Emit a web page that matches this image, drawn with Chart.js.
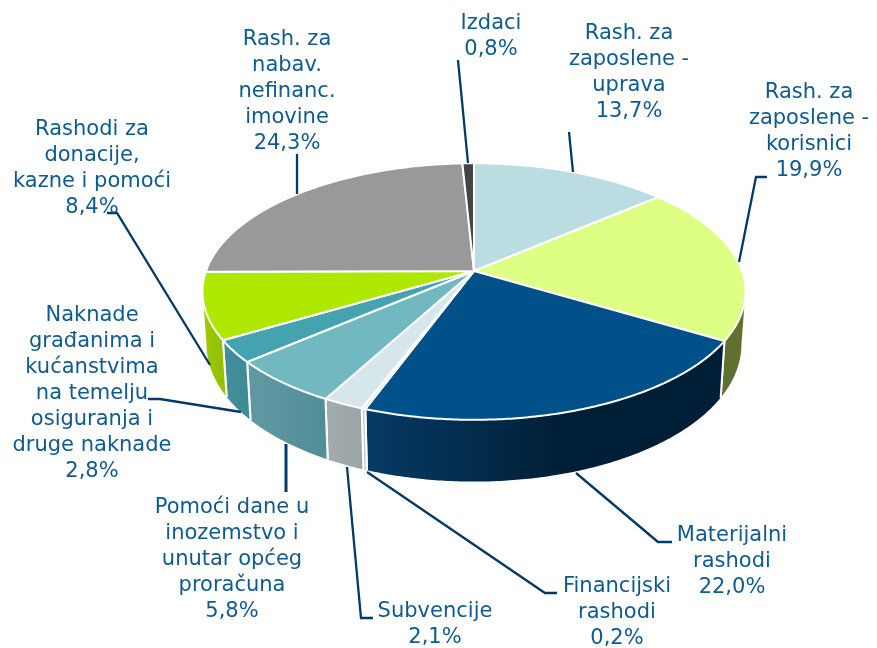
<!DOCTYPE html>
<html lang="hr">
<head>
<meta charset="utf-8">
<title>Rashodi</title>
<style>
    html, body { margin: 0; padding: 0; background: #ffffff; }
    canvas { display: block; }
</style>
<script src="https://cdn.jsdelivr.net/npm/chart.js@4/dist/chart.umd.min.js"></script>
</head>
<body>
<canvas id="pieChart" width="877" height="648"></canvas>
<script>
// Data
const categoryLines = [
    ['Rash. za', 'zaposlene -', 'uprava'],
    ['Rash. za', 'zaposlene -', 'korisnici'],
    ['Materijalni', 'rashodi'],
    ['Financijski', 'rashodi'],
    ['Subvencije'],
    ['Pomoći dane u', 'inozemstvo i', 'unutar općeg', 'proračuna'],
    ['Naknade', 'građanima i', 'kućanstvima', 'na temelju', 'osiguranja i', 'druge naknade'],
    ['Rashodi za', 'donacije,', 'kazne i pomoći'],
    ['Rash. za', 'nabav.', 'nefinanc.', 'imovine'],
    ['Izdaci']
];
const shareValues = [13.7, 19.9, 22.0, 0.2, 2.1, 5.8, 2.8, 8.4, 24.3, 0.8];

// Colours
const topColors = ['#b9dde0', '#deff84', '#005089', '#e4eaec', '#d7e6ea', '#72b8c0', '#44a3af', '#aee800', '#999999', '#444444'];
const sideStart = ['#5f7030', '#5f7030', '#063a66', '#c9cdce', '#a3adb0', '#6199a3', '#458f9d', '#9ccc00', '#777777', '#333333'];
const sideEnd = ['#5f7030', '#5f7030', '#001f36', '#c9cdce', '#9ba5a8', '#528e98', '#3f8a98', '#92bf00', '#777777', '#333333'];

// Layout of the labels: centre x and the y of the first line
const labelX = [629, 809, 732, 617, 435, 232, 92, 92, 287, 491];
const labelY = [34, 93, 536, 587, 612, 508, 316, 130, 40, 24];
const labelLineHeight = 26;
const labelColor = '#0f5a8f';
const labelFont = '21px "DejaVu Sans", Verdana, sans-serif';

// Leader lines
const leaderColor = '#003a66';
const leaderLines = [
    [[569, 132], [573, 172]],
    [[767, 177], [756, 177], [739, 262]],
    [[576, 473], [658, 542], [672, 542]],
    [[367, 472], [545, 593], [557, 593]],
    [[347, 467], [361, 618], [373, 618]],
    [[286, 444], [286, 492]],
    [[148, 399], [160, 399], [241, 412]],
    [[107, 213], [117, 213], [210, 365]],
    [[297, 154], [297, 194]],
    [[458, 60], [468, 163]]
];

// Perspective of the disc
const tilt = 125 / 268;
const perspective = 0.16;
const depthBase = 51;
const depthFront = 13;
const bottomScale = 0.985;
const wallLimit = Math.asin(perspective);

// Projects a point of the flat pie onto the tilted disc
function project(el, angle, drop, scale) {
    const u = Math.cos(angle);
    const v = Math.sin(angle);
    const w = 1 - perspective * v;
    const r = el.outerRadius * scale;
    return {
        x: el.x + (r * u) / w,
        y: el.y + (r * tilt * v) / w + drop
    };
}

function arcPoints(el, from, to, drop, scale) {
    const points = [];
    const steps = Math.max(2, Math.ceil(Math.abs(to - from) / 0.01));
    for (let i = 0; i <= steps; i++) {
        points.push(project(el, from + ((to - from) * i) / steps, drop, scale));
    }
    return points;
}

function wallDepth(angle) {
    return depthBase + depthFront * Math.sin(angle);
}

function drawWall(ctx, el, index) {
    const from = Math.max(el.startAngle, wallLimit);
    const to = Math.min(el.endAngle, Math.PI - wallLimit);
    if (to <= from) return;

    const top = arcPoints(el, from, to, 0, 1);
    const steps = top.length - 1;
    const bottom = [];
    for (let i = steps; i >= 0; i--) {
        const a = from + ((to - from) * i) / steps;
        bottom.push(project(el, a, wallDepth(a), bottomScale));
    }

    const gradient = ctx.createLinearGradient(top[steps].x, 0, top[0].x, 0);
    gradient.addColorStop(0, sideStart[index]);
    gradient.addColorStop(index === 2 ? 0.55 : 1, sideEnd[index]);
    gradient.addColorStop(1, sideEnd[index]);

    ctx.beginPath();
    top.concat(bottom).forEach((p, i) => (i ? ctx.lineTo(p.x, p.y) : ctx.moveTo(p.x, p.y)));
    ctx.closePath();
    ctx.fillStyle = gradient;
    ctx.fill();

    // White seams between the wall pieces
    ctx.strokeStyle = '#ffffff';
    ctx.lineWidth = 2;
    ctx.beginPath();
    if (el.startAngle >= wallLimit) {
        ctx.moveTo(top[0].x, top[0].y);
        ctx.lineTo(bottom[steps].x, bottom[steps].y);
    }
    if (el.endAngle <= Math.PI - wallLimit) {
        ctx.moveTo(top[steps].x, top[steps].y);
        ctx.lineTo(bottom[0].x, bottom[0].y);
    }
    ctx.stroke();
}

function drawTop(ctx, el, index) {
    const rim = arcPoints(el, el.startAngle, el.endAngle, 0, 1);
    ctx.beginPath();
    ctx.moveTo(el.x, el.y);
    rim.forEach((p) => ctx.lineTo(p.x, p.y));
    ctx.closePath();
    ctx.fillStyle = topColors[index];
    ctx.fill();
    ctx.strokeStyle = '#ffffff';
    ctx.lineWidth = 2;
    ctx.lineJoin = 'round';
    ctx.stroke();
}

const tiltedPie = {
    id: 'tiltedPie',
    beforeDatasetDraw(chart, args) {
        const { ctx } = chart;
        const arcs = args.meta.data;
        ctx.save();
        arcs.forEach((el, i) => drawWall(ctx, el, i));
        arcs.forEach((el, i) => drawTop(ctx, el, i));
        ctx.restore();
        return false; // the plugin replaces the flat pie
    }
};

const pieLabels = {
    id: 'pieLabels',
    afterDatasetsDraw(chart) {
        const { ctx } = chart;
        ctx.save();
        ctx.lineCap = 'butt';
        ctx.lineJoin = 'miter';
        ctx.strokeStyle = leaderColor;
        leaderLines.forEach((line, i) => {
            ctx.lineWidth = i === 5 ? 3 : 2.3;
            ctx.beginPath();
            line.forEach((p, j) => (j ? ctx.lineTo(p[0], p[1]) : ctx.moveTo(p[0], p[1])));
            ctx.stroke();
        });

        ctx.font = labelFont;
        ctx.fillStyle = labelColor;
        ctx.textAlign = 'center';
        ctx.textBaseline = 'middle';
        categoryLines.forEach((lines, i) => {
            const percent = shareValues[i].toFixed(1).replace('.', ',') + '%';
            lines.concat(percent).forEach((text, j) => {
                ctx.fillText(text, labelX[i], labelY[i] + j * labelLineHeight);
            });
        });
        ctx.restore();
    }
};

new Chart(document.getElementById('pieChart').getContext('2d'), {
    type: 'pie',
    data: {
        labels: categoryLines.map((lines) => lines.join(' ')),
        datasets: [{
            data: shareValues,
            backgroundColor: topColors,
            borderWidth: 0
        }]
    },
    options: {
        responsive: false,
        animation: false,
        // puts the pie centre at (474, 271) with radius 268
        layout: { padding: { left: 206, right: 135, top: 3, bottom: 109 } },
        plugins: {
            legend: { display: false },
            tooltip: { enabled: false }
        }
    },
    plugins: [tiltedPie, pieLabels]
});
</script>
</body>
</html>
